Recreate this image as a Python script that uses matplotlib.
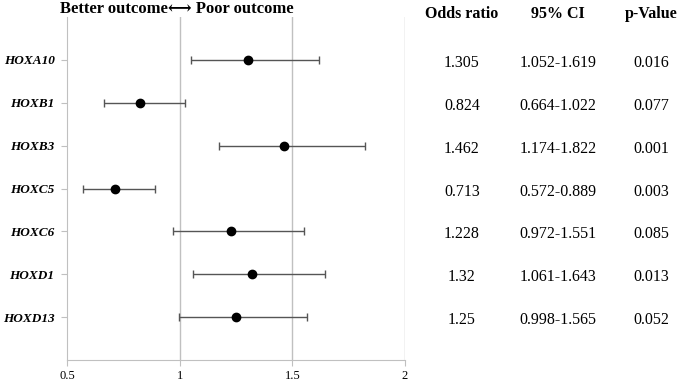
import numpy as np
import matplotlib.pyplot as plt

genes = ['HOXA10', 'HOXB1', 'HOXB3', 'HOXC5', 'HOXC6', 'HOXD1', 'HOXD13']
odds = [1.305, 0.824, 1.462, 0.713, 1.228, 1.32, 1.25]
ci_low = [1.052, 0.664, 1.174, 0.572, 0.972, 1.061, 0.998]
ci_high = [1.619, 1.022, 1.822, 0.889, 1.551, 1.643, 1.565]
odds_txt = ['1.305', '0.824', '1.462', '0.713', '1.228', '1.32', '1.25']
ci_txt = ['1.052-1.619', '0.664-1.022', '1.174-1.822', '0.572-0.889',
          '0.972-1.551', '1.061-1.643', '0.998-1.565']
p_txt = ['0.016', '0.077', '0.001', '0.003', '0.085', '0.013', '0.052']
xticks = [0.5, 1, 1.5, 2]

plt.rcParams['font.family'] = ['Liberation Serif', 'DejaVu Serif', 'DejaVu Sans']

fig = plt.figure(figsize=(6.8, 3.81), dpi=100)
ax = fig.add_axes([67 / 680, 21 / 381, 338 / 680, 343 / 381])

n = len(genes)
y = np.arange(n, 0, -1)
odds = np.array(odds)
err = [odds - np.array(ci_low), np.array(ci_high) - odds]

for xv in xticks[1:]:
    ax.axvline(xv, color='#c0c0c0', lw=1, zorder=0)

ax.errorbar(odds, y, xerr=err, fmt='o', color='black', ecolor='#555555',
            elinewidth=1, capsize=3, capthick=1, markersize=6)

ax.set_xlim(0.5, 2)
ax.set_ylim(0, n + 1)
ax.set_xticks(xticks)
ax.set_xticklabels(['0.5', '1', '1.5', '2'], fontsize=9)
ax.set_yticks(y)
ax.set_yticklabels(genes, fontsize=9.5, fontweight='bold', fontstyle='italic')
ax.tick_params(axis='both', color='#c0c0c0', length=4)
ax.tick_params(axis='y', pad=5)
for s in ['top', 'right']:
    ax.spines[s].set_visible(False)
for s in ['left', 'bottom']:
    ax.spines[s].set_color('#c0c0c0')

fig.text(177 / 680, 1 - 9 / 381, 'Better outcome\u27f7 Poor outcome', ha='center',
         va='center', fontsize=12, fontweight='bold')

cols = [462 / 680, 558 / 680, 651 / 680]
heads = ['Odds ratio', '95% CI', 'p-Value']
for cx, h in zip(cols, heads):
    fig.text(cx, 1 - 14 / 381, h, ha='center', va='center', fontsize=11.5,
             fontweight='bold')

for i in range(n):
    yy = (ax.transData.transform((0, y[i]))[1] - 3) / fig.bbox.height
    for cx, t in zip(cols, [odds_txt[i], ci_txt[i], p_txt[i]]):
        fig.text(cx, yy, t, ha='center', va='center', fontsize=11.5)

fig.savefig('out.png', dpi=100)
